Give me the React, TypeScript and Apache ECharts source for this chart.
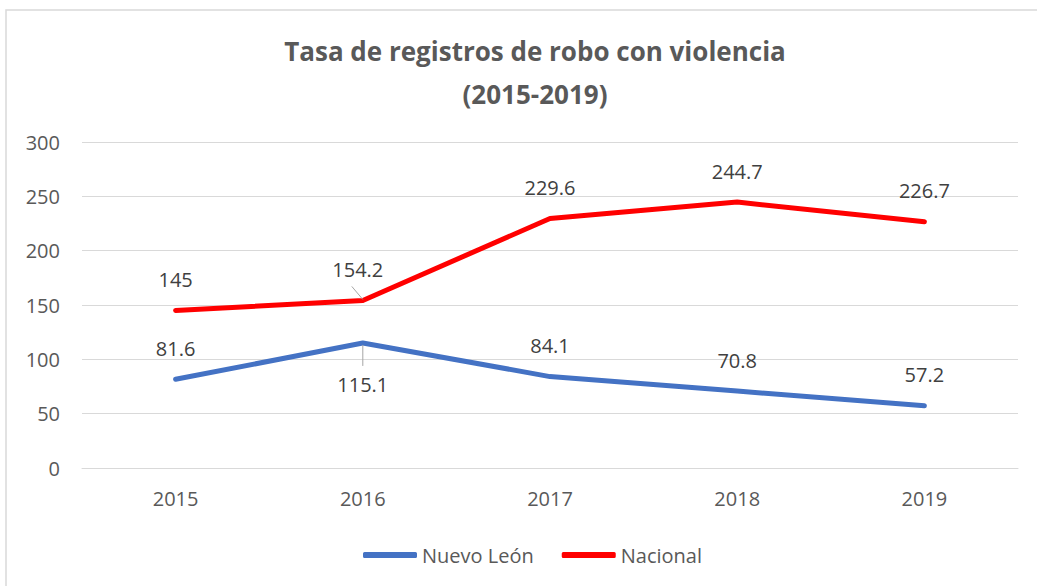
import React, { useEffect, useRef } from "react";
import * as echarts from "echarts";

const categories = ["2015", "2016", "2017", "2018", "2019"];
const nuevoLeon = [81.6, 115.1, 84.1, 70.8, 57.2];
const nacional = [145, 154.2, 229.6, 244.7, 226.7];
const yTicks = { min: 0, max: 300, interval: 50 };

const TXT = "#595959";
const FONT = "'Open Sans', 'Noto Sans', sans-serif";

export default function App() {
  const ref = useRef<HTMLDivElement>(null);
  useEffect(() => {
    document.body.style.margin = "0";
    const chart = echarts.init(ref.current!, null, { renderer: "svg" });
    const labelBase = {
      show: true,
      position: "top" as const,
      distance: 21,
      color: "#404040",
      fontSize: 20,
      fontFamily: FONT,
    };
    chart.setOption({
      animation: false,
      backgroundColor: "#fff",
      textStyle: { fontFamily: FONT },
      title: {
        text: "Tasa de registros de robo con violencia\n(2015-2019)",
        left: 530,
        top: 24,
        textAlign: "center",
        textStyle: {
          fontFamily: FONT,
          fontSize: 26,
          fontWeight: "bold",
          color: TXT,
          lineHeight: 43,
        },
      },
      grid: { left: 82, right: 19, top: 142, bottom: 118, containLabel: false },
      legend: {
        left: 358,
        top: 540,
        icon: "roundRect",
        itemWidth: 54,
        itemHeight: 6,
        itemGap: 28,
        textStyle: { fontSize: 20, color: TXT, fontFamily: FONT },
        data: ["Nuevo León", "Nacional"],
      },
      xAxis: {
        type: "category",
        data: categories,
        boundaryGap: true,
        axisLine: { show: true, lineStyle: { color: "#d9d9d9", width: 1 } },
        axisTick: { show: false },
        axisLabel: { color: TXT, fontSize: 20, fontFamily: FONT, margin: 20 },
      },
      yAxis: {
        type: "value",
        min: yTicks.min,
        max: yTicks.max,
        interval: yTicks.interval,
        axisLine: { show: false },
        axisTick: { show: false },
        axisLabel: { color: TXT, fontSize: 20, fontFamily: FONT, margin: 22 },
        splitLine: { lineStyle: { color: "#d9d9d9", width: 1 } },
      },
      series: [
        {
          name: "Nuevo León",
          type: "line",
          data: nuevoLeon.map((v, i) =>
            i === 1
              ? { value: v, label: { position: "bottom", distance: 32 } }
              : v
          ),
          symbol: "circle",
          symbolSize: 0.1,
          showSymbol: true,
          lineStyle: { color: "#4472C4", width: 5, cap: "round", join: "round" },
          itemStyle: { color: "#4472C4" },
          label: labelBase,
        },
        {
          name: "Nacional",
          type: "line",
          data: nacional.map((v, i) =>
            i === 1 ? { value: v, label: { offset: [-5, 0] } } : v
          ),
          symbol: "circle",
          symbolSize: 0.1,
          showSymbol: true,
          lineStyle: { color: "#FF0000", width: 5, cap: "round", join: "round" },
          itemStyle: { color: "#FF0000" },
          label: labelBase,
        },
      ],
    });

    const pRed = chart.convertToPixel({ seriesIndex: 1 }, [1, nacional[1]]) as number[];
    const pBlue = chart.convertToPixel({ seriesIndex: 0 }, [1, nuevoLeon[1]]) as number[];
    const leader = { stroke: "#a6a6a6", lineWidth: 1 };
    chart.setOption({
      graphic: [
        {
          type: "rect",
          shape: { x: 6, y: 10, width: 1100, height: 640 },
          style: { fill: "none", stroke: "#d9d9d9", lineWidth: 1.5 },
          silent: true,
        },
        {
          type: "line",
          shape: { x1: pRed[0] - 11, y1: pRed[1] - 14, x2: pRed[0], y2: pRed[1] - 1 },
          style: leader,
          z: 10,
        },
        {
          type: "line",
          shape: { x1: pBlue[0], y1: pBlue[1] + 2, x2: pBlue[0], y2: pBlue[1] + 23 },
          style: leader,
          z: 10,
        },
      ],
    });
    return () => chart.dispose();
  }, []);
  return <div ref={ref} style={{ width: 1037, height: 586 }} />;
}
